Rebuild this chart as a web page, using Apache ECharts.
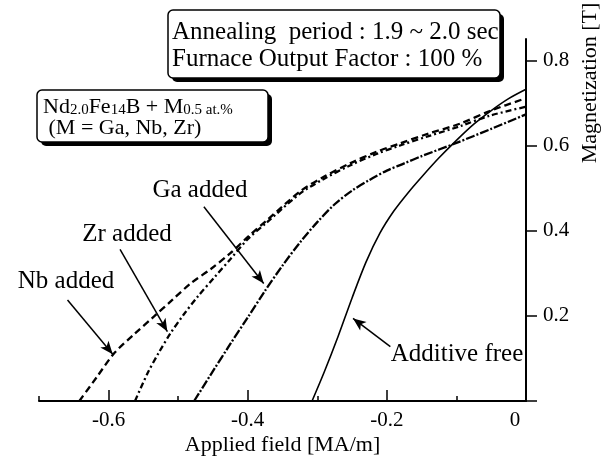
<!DOCTYPE html>
<html>
<head>
<meta charset="utf-8">
<script src="https://cdn.jsdelivr.net/npm/echarts@6.0.0/dist/echarts.min.js"></script>
<style>
html, body { margin: 0; padding: 0; background: #fff; }
#main { width: 610px; height: 459px; }
</style>
</head>
<body>
<div id="main"></div>
<script>
// demagnetization curves
var freeX = [-0.3075, -0.29, -0.27, -0.25, -0.23, -0.21, -0.19, -0.17, -0.15, -0.125, -0.10, -0.075, -0.05, -0.025, 0];
var freeY = [0, 0.068, 0.152, 0.242, 0.326, 0.394, 0.446, 0.488, 0.526, 0.571, 0.612, 0.650, 0.682, 0.710, 0.732];

var nbX = [-0.642, -0.617, -0.592, -0.563, -0.535, -0.508, -0.482, -0.453, -0.425, -0.398, -0.372, -0.324, -0.29, -0.253, -0.215, -0.181, -0.14, -0.095, -0.052, 0];
var nbY = [0, 0.056, 0.112, 0.157, 0.198, 0.238, 0.276, 0.31, 0.347, 0.388, 0.425, 0.493, 0.527, 0.558, 0.585, 0.605, 0.628, 0.651, 0.681, 0.711];

var zrX = [-0.562, -0.544, -0.528, -0.511, -0.492, -0.472, -0.448, -0.425, -0.4, -0.372, -0.324, -0.29, -0.253, -0.215, -0.181, -0.14, -0.095, -0.052, 0];
var zrY = [0, 0.065, 0.113, 0.159, 0.203, 0.245, 0.29, 0.333, 0.38, 0.42, 0.488, 0.522, 0.553, 0.58, 0.6, 0.622, 0.645, 0.67, 0.691];

var gaX = [-0.477, -0.45, -0.425, -0.40, -0.375, -0.35, -0.325, -0.30, -0.275, -0.25, -0.225, -0.20, -0.175, -0.15, -0.10, -0.05, 0];
var gaY = [0, 0.070, 0.134, 0.196, 0.259, 0.318, 0.372, 0.420, 0.462, 0.494, 0.519, 0.541, 0.558, 0.575, 0.606, 0.639, 0.673];

// ticks
var xMajor = [-0.6, -0.4, -0.2, 0];
var xMinor = [-0.7, -0.5, -0.3, -0.1];
var yTicks = [0, 0.2, 0.4, 0.6, 0.8];
var yLabels = [0.2, 0.4, 0.6, 0.8];

// arrows [from, to] in data units
var gaArrow = [[-0.463, 0.456], [-0.377, 0.276]];
var zrArrow = [[-0.5835, 0.356], [-0.5155, 0.163]];
var nbArrow = [[-0.659, 0.237], [-0.594, 0.110]];
var freeArrow = [[-0.195, 0.1275], [-0.2486, 0.194]];

var serif = '"Liberation Serif", "Times New Roman", serif';

function zip(xs, ys) {
	var out = [];
	for (var i = 0; i < xs.length; i++) {
		out.push([xs[i], ys[i]]);
	}
	return out;
}

function arrow(a) {
	return {
		silent: true,
		animation: false,
		symbol: ['none', 'arrow'],
		symbolSize: [8, 13],
		label: { show: false },
		lineStyle: { type: 'solid', color: '#000', width: 1.5 },
		data: [[{ coord: a[0] }, { coord: a[1] }]]
	};
}

function curve(name, xs, ys, dash, arr) {
	return {
		name: name,
		type: 'line',
		xAxisIndex: 0,
		yAxisIndex: 0,
		data: zip(xs, ys),
		showSymbol: false,
		smooth: 0.3,
		lineStyle: { color: '#000', width: dash ? 2.3 : 1.6, type: dash || 'solid' },
		markLine: arrow(arr)
	};
}

var dom = document.getElementById('main');
var myChart = echarts.init(dom, null, { renderer: 'canvas' });

var option = {
	animation: false,
	backgroundColor: '#fff',
	grid: { left: 39, right: 84, top: 39, bottom: 58, outerBoundsMode: 'none', containLabel: false },
	xAxis: [{
		type: 'value',
		position: 'bottom',
		min: -0.7,
		max: 0,
		interval: 0.1,
		axisLine: { onZero: false, lineStyle: { color: '#000', width: 2 } },
		axisTick: { inside: true, length: 5, customValues: xMinor, lineStyle: { color: '#000', width: 1.5 } },
		axisLabel: { show: false },
		splitLine: { show: false },
		name: 'Applied field [MA/m]',
		nameLocation: 'middle',
		nameGap: 33,
		nameTextStyle: { color: '#000', fontFamily: serif, fontSize: 22 }
	}, {
		type: 'value',
		position: 'bottom',
		min: -0.7,
		max: 0,
		interval: 0.1,
		axisLine: { show: false, onZero: false },
		axisTick: { inside: true, length: 11, customValues: xMajor, lineStyle: { color: '#000', width: 1.5 } },
		axisLabel: {
			customValues: xMajor,
			margin: 9,
			color: '#000',
			fontFamily: serif,
			fontSize: 21,
			formatter: function(v) {
				if (Math.abs(v) < 1e-9) return '{z|0}';
				return v.toFixed(1);
			},
			rich: { z: { fontFamily: serif, fontSize: 21, color: '#000', padding: [0, 22, 0, 0] } }
		},
		splitLine: { show: false }
	}],
	yAxis: {
		type: 'value',
		position: 'right',
		min: 0,
		max: 0.85,
		interval: 0.2,
		axisLine: { show: true, onZero: false, lineStyle: { color: '#000', width: 2 } },
		axisTick: { show: true, length: 11, customValues: yTicks, lineStyle: { color: '#000', width: 1.5 } },
		axisLabel: {
			customValues: yLabels,
			margin: 17,
			color: '#000',
			fontFamily: serif,
			fontSize: 21,
			formatter: function(v) { return v.toFixed(1); }
		},
		splitLine: { show: false }
	},
	series: [
		curve('Additive free', freeX, freeY, null, freeArrow),
		curve('Nb added', nbX, nbY, [7, 4], nbArrow),
		curve('Zr added', zrX, zrY, [6, 3, 2, 3], zrArrow),
		curve('Ga added', gaX, gaY, [9, 2, 2, 2], gaArrow)
	],
	graphic: [
		// y axis title
		{ type: 'text', x: 590, y: 83, rotation: Math.PI / 2,
			style: { text: 'Magnetization [T]', fontFamily: serif, fontSize: 22, fill: '#000', align: 'center', verticalAlign: 'middle' } },
		// curve labels
		{ type: 'text', x: 200, y: 190, style: { text: 'Ga added', fontFamily: serif, fontSize: 25, fill: '#000', align: 'center', verticalAlign: 'middle' } },
		{ type: 'text', x: 127, y: 234, style: { text: 'Zr added', fontFamily: serif, fontSize: 25, fill: '#000', align: 'center', verticalAlign: 'middle' } },
		{ type: 'text', x: 66, y: 281, style: { text: 'Nb added', fontFamily: serif, fontSize: 25, fill: '#000', align: 'center', verticalAlign: 'middle' } },
		{ type: 'text', x: 457, y: 354, style: { text: 'Additive free', fontFamily: serif, fontSize: 25, fill: '#000', align: 'center', verticalAlign: 'middle' } },
		// annealing box
		{ type: 'rect', shape: { x: 172, y: 14, width: 332, height: 68, r: 5 }, style: { fill: '#000' } },
		{ type: 'rect', shape: { x: 168, y: 10, width: 332, height: 68, r: 5 }, style: { fill: '#fff', stroke: '#000', lineWidth: 1.5 } },
		{ type: 'text', x: 172, y: 19,
			style: { text: 'Annealing  period : 1.9 ~ 2.0 sec\nFurnace Output Factor : 100 %', fontFamily: serif, fontSize: 25, lineHeight: 27, fill: '#000', align: 'left', verticalAlign: 'top' } },
		// composition box
		{ type: 'rect', shape: { x: 41, y: 94, width: 231, height: 52, r: 5 }, style: { fill: '#000' } },
		{ type: 'rect', shape: { x: 37, y: 90, width: 231, height: 52, r: 5 }, style: { fill: '#fff', stroke: '#000', lineWidth: 1.5 } },
		{ type: 'text', x: 43, y: 107,
			style: {
				text: '{n|Nd}{s|2.0}{n|Fe}{s|14}{n|B + M}{s|0.5 at.%}',
				align: 'left', verticalAlign: 'middle',
				rich: {
					n: { fontFamily: serif, fontSize: 22, lineHeight: 22, fill: '#000' },
					s: { fontFamily: serif, fontSize: 15, lineHeight: 8, fill: '#000', verticalAlign: 'bottom' }
				}
			} },
		{ type: 'text', x: 43, y: 128,
			style: { text: ' (M = Ga, Nb, Zr)', fontFamily: serif, fontSize: 22, fill: '#000', align: 'left', verticalAlign: 'middle' } }
	]
};

if (option && typeof option === 'object') {
	myChart.setOption(option, true);
}
</script>
</body>
</html>
